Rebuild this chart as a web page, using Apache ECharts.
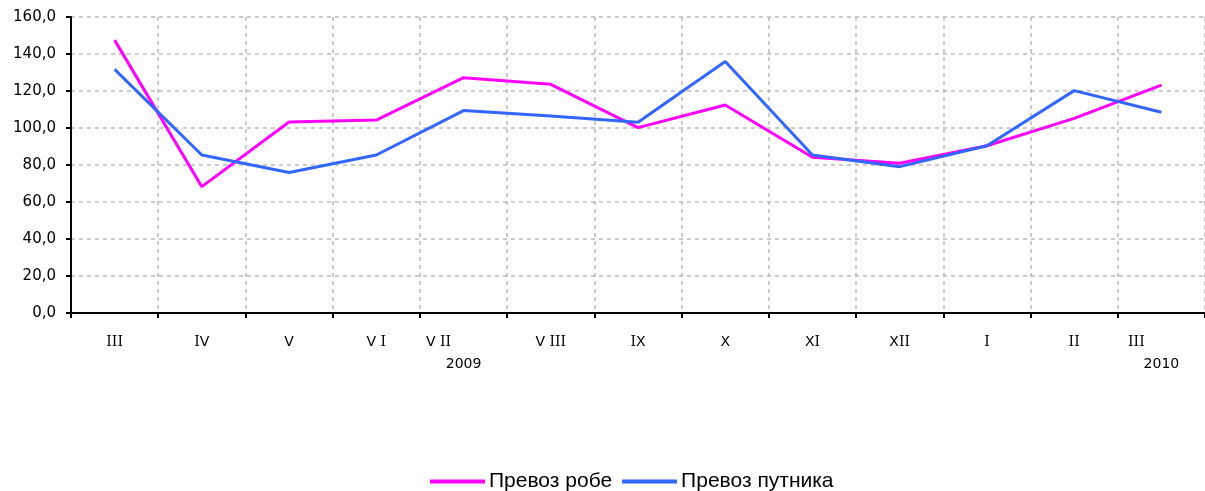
<!DOCTYPE html>
<html><head><meta charset="utf-8">
<script src="https://cdn.jsdelivr.net/npm/echarts@6/dist/echarts.min.js"></script>
<style>html,body{margin:0;padding:0;background:#fff}#c{width:1205px;height:491px}</style>
</head><body><div id="c"></div>
<script>
const categories = ['III','IV','V','V I','V II','V III','IX','X','XI','XII','I','II','III'];
const yearLabels = ['','','','','2009','','','','','','','','2010'];
const goods = [147.5,68.3,103.2,104.3,127.2,123.6,100.2,112.4,84.2,80.9,90.4,105.2,123.2];
const passengers = [131.7,85.4,75.9,85.4,109.4,106.5,103.1,135.9,85.4,79.1,90.4,120.2,108.5];
const seriesNames = ['Превоз робе','Превоз путника'];

const chart = echarts.init(document.getElementById('c'), null, {renderer:'canvas'});
const sans = {fontFamily:'DejaVu Sans', fontSize:14, color:'#000', lineHeight:22};
const serif = {fontFamily:'DejaVu Serif', fontSize:14, color:'#000', lineHeight:22};
function roman(v, last){
  // I drawn with serifs like the original, other letters sans
  return v.split('').map(function(ch, k){
    const isLast = last && k === v.length - 1;
    const st = (ch === 'I' ? 'i' : 's') + (isLast ? 'p' : '');
    return '{' + st + '|' + ch + '}';
  }).join('');
}
chart.setOption({
  animation:false,
  backgroundColor:'#fff',
  grid:{left:71, top:17, width:1137.5, height:296, containLabel:false},
  legend:{
    top:466, left:425, itemWidth:55, itemHeight:4, itemGap:10,
    icon:'rect',
    textStyle:{fontFamily:'Liberation Sans', fontSize:21, color:'#000', padding:[0,0,0,-1]},
    data:seriesNames
  },
  xAxis:{
    type:'category', data:categories, boundaryGap:true,
    axisLine:{lineStyle:{color:'#000', width:2}},
    axisTick:{show:true, length:5, lineStyle:{color:'#000', width:2}},
    splitLine:{show:true, lineStyle:{color:'#bbb', type:[4,4], width:1.5}},
    axisLabel:{
      interval:0, margin:18, fontFamily:'DejaVu Sans', fontSize:14, color:'#000',
      formatter:function(v, i){
        const y = yearLabels[i];
        return y ? roman(v, true) + '\n{y|' + y + '}' : roman(v, false);
      },
      rich:{
        s:sans, i:serif, y:sans,
        sp:Object.assign({}, sans, {padding:[0,50,0,0]}),
        ip:Object.assign({}, serif, {padding:[0,50,0,0]})
      }
    }
  },
  yAxis:{
    type:'value', min:0, max:160, interval:20,
    axisLine:{show:true, lineStyle:{color:'#000', width:2}},
    axisTick:{show:true, length:5, lineStyle:{color:'#000', width:2}},
    splitLine:{show:true, lineStyle:{color:'#bbb', type:[4,4], width:1.5}},
    axisLabel:{margin:15, fontFamily:'DejaVu Sans', fontSize:15, color:'#000',
      formatter:function(v){return v.toFixed(1).replace('.', ',');}}
  },
  series:[
    {name:seriesNames[0], type:'line', data:goods, symbol:'none', lineStyle:{color:'#ff00ff', width:3}, itemStyle:{color:'#ff00ff'}, z:2},
    {name:seriesNames[1], type:'line', data:passengers, symbol:'none', lineStyle:{color:'#3366ff', width:3}, itemStyle:{color:'#3366ff'}, z:3}
  ]
});
</script></body></html>
